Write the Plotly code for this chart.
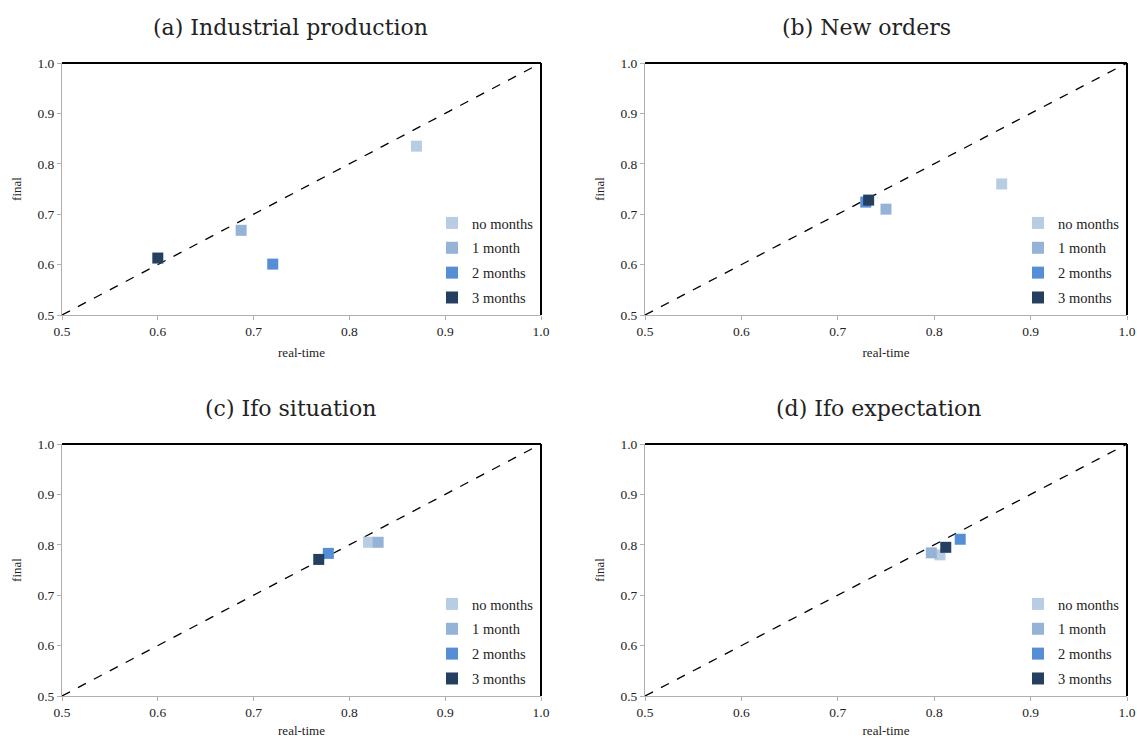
import plotly.graph_objects as go

# ---- data ----
series_names = ["no months", "1 month", "2 months", "3 months"]
series_colors = ["#b8cce4", "#95b3d7", "#558ed5", "#243f60"]
panel_titles = ["(a) Industrial production", "(b) New orders", "(c) Ifo situation", "(d) Ifo expectation"]

# real-time (x) and final (y) values per panel, order: no months, 1, 2, 3 months
ip_x = [0.870, 0.687, 0.720, 0.600]
ip_y = [0.835, 0.668, 0.601, 0.613]
no_x = [0.870, 0.750, 0.729, 0.732]
no_y = [0.760, 0.710, 0.724, 0.728]
sit_x = [0.820, 0.830, 0.778, 0.768]
sit_y = [0.805, 0.805, 0.783, 0.771]
exp_x = [0.806, 0.797, 0.827, 0.812]
exp_y = [0.780, 0.784, 0.811, 0.795]
panels_x = [ip_x, no_x, sit_x, exp_x]
panels_y = [ip_y, no_y, sit_y, exp_y]

diag = [0.5, 1.0]
tick_vals = [0.5, 0.6, 0.7, 0.8, 0.9, 1.0]
tick_text = ["0.5", "0.6", "0.7", "0.8", "0.9", "1.0"]

W, H = 1137, 738
# plot area pixel boxes in page coords (left, right, top, bottom)
boxes = [(62, 541, 63, 315), (645, 1127, 63, 315), (62, 541, 444, 696), (645, 1127, 444, 696)]
title_cx = [290, 866, 290, 878]

fig = go.Figure()
serif = "Liberation Serif, Times New Roman, serif"
title_font = "DejaVu Serif, serif"
layout = dict(width=W, height=H, margin=dict(l=0, r=0, t=0, b=0, autoexpand=False),
              plot_bgcolor="white", paper_bgcolor="white", showlegend=True)
shapes = []
annotations = []

def px_x(p):
    return p / W

def px_y(p):
    return 1 - p / H

for i in range(4):
    xa = "x" if i == 0 else f"x{i+1}"
    ya = "y" if i == 0 else f"y{i+1}"
    lg = "legend" if i == 0 else f"legend{i+1}"
    l, r, t, b = boxes[i]
    dx = [px_x(l), px_x(r)]
    dy = [px_y(b), px_y(t)]
    axkey_x = "xaxis" if i == 0 else f"xaxis{i+1}"
    axkey_y = "yaxis" if i == 0 else f"yaxis{i+1}"
    layout[axkey_x] = dict(domain=dx, range=[0.5, 1.0], anchor=ya, tickvals=tick_vals, ticktext=tick_text,
                           showgrid=False, zeroline=False, showline=True, linecolor="#b0b0b0", linewidth=1,
                           ticks="outside", ticklen=4, tickcolor="#b0b0b0", automargin=False,
                           tickfont=dict(family=serif, size=13.5, color="#222"),
                           title=dict(text="real-time", font=dict(family=serif, size=13, color="#222"), standoff=9))
    layout[axkey_y] = dict(domain=dy, range=[0.5, 1.0], anchor=xa, tickvals=tick_vals, ticktext=tick_text,
                           showgrid=False, zeroline=False, showline=True, linecolor="#b0b0b0", linewidth=1,
                           ticks="outside", ticklen=4, tickcolor="#b0b0b0", automargin=False,
                           tickfont=dict(family=serif, size=13.5, color="#222"),
                           title=dict(text="final", font=dict(family=serif, size=13, color="#222"), standoff=12))
    # diagonal
    fig.add_trace(go.Scatter(x=diag, y=diag, mode="lines", xaxis=xa, yaxis=ya, showlegend=False,
                             line=dict(color="black", width=1.3, dash="dash"), hoverinfo="skip"))
    for j in range(4):
        fig.add_trace(go.Scatter(x=[panels_x[i][j]], y=[panels_y[i][j]], mode="markers", name=series_names[j],
                                 xaxis=xa, yaxis=ya, legend=lg, legendgroup=f"g{i}{j}",
                                 marker=dict(symbol="square", size=11, color=series_colors[j])))
    layout[lg] = dict(x=px_x(r - 109), y=px_y(b - 108), xanchor="left", yanchor="top",
                      font=dict(family=serif, size=14.5, color="#222"), bgcolor="rgba(0,0,0,0)",
                      tracegroupgap=3, itemwidth=30, itemsizing="constant")
    # black top and right frame
    shapes.append(dict(type="line", xref=f"{xa} domain", yref=f"{ya} domain", x0=0, x1=1, y0=1, y1=1,
                       line=dict(color="black", width=2)))
    shapes.append(dict(type="line", xref=f"{xa} domain", yref=f"{ya} domain", x0=1, x1=1, y0=0, y1=1,
                       line=dict(color="black", width=2)))
    annotations.append(dict(text=panel_titles[i], xref="paper", yref="paper", x=px_x(title_cx[i]),
                            xanchor="center", y=px_y(t - 36), yanchor="middle", showarrow=False,
                            font=dict(family=title_font, size=22, color="#222")))

layout["shapes"] = shapes
layout["annotations"] = annotations
fig.update_layout(**layout)
fig.write_html("out.html", config={"displayModeBar": False},
               post_script="document.body.style.margin='0';document.body.style.overflow='hidden';")
